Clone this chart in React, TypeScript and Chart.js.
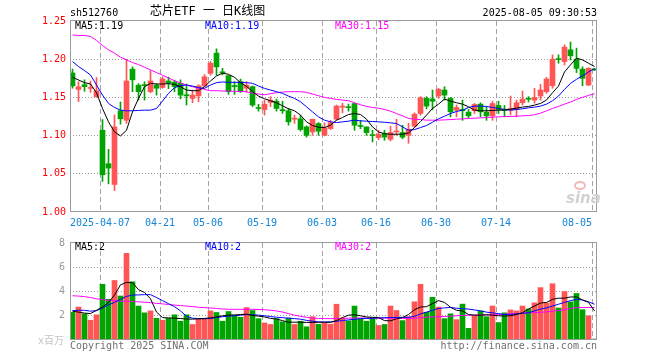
import React, { useEffect, useRef } from "react";
import { Chart, registerables } from "chart.js";

Chart.register(...registerables);

// ---------------- DATA ----------------
const DATES = [
  "03-28", "03-31", "04-01", "04-02", "04-03", "04-07", "04-08", "04-09", "04-10", "04-11",
  "04-14", "04-15", "04-16", "04-17", "04-18", "04-21", "04-22", "04-23", "04-24", "04-25",
  "04-28", "04-29", "04-30", "05-06", "05-07", "05-08", "05-09", "05-12", "05-13", "05-14",
  "05-15", "05-16", "05-19", "05-20", "05-21", "05-22", "05-23", "05-26", "05-27", "05-28",
  "05-29", "05-30", "06-03", "06-04", "06-05", "06-06", "06-09", "06-10", "06-11", "06-12",
  "06-13", "06-16", "06-17", "06-18", "06-19", "06-20", "06-23", "06-24", "06-25", "06-26",
  "06-27", "06-30", "07-01", "07-02", "07-03", "07-04", "07-07", "07-08", "07-09", "07-10",
  "07-11", "07-14", "07-15", "07-16", "07-17", "07-18", "07-21", "07-22", "07-23", "07-24",
  "07-25", "07-28", "07-29", "07-30", "07-31", "08-01", "08-04", "08-05",
];

const OPEN = [
  1.182, 1.1605, 1.1667, 1.1618, 1.151, 1.107, 1.0632, 1.036, 1.1325, 1.12,
  1.187, 1.166, 1.1665, 1.1575, 1.166, 1.163, 1.1715, 1.17, 1.1684, 1.1535,
  1.1487, 1.152, 1.165, 1.1816, 1.208, 1.1835, 1.1785, 1.1655, 1.1706, 1.162,
  1.164, 1.1365, 1.134, 1.1434, 1.145, 1.134, 1.1325, 1.1215, 1.122, 1.1114,
  1.1048, 1.1158, 1.1004, 1.1092, 1.1215, 1.1372, 1.1377, 1.142, 1.1125, 1.1114,
  1.1004, 1.0974, 1.1026, 1.0952, 1.1048, 1.104, 1.1004, 1.1123, 1.129, 1.1488,
  1.148, 1.1518, 1.1597, 1.1487, 1.1333, 1.1342, 1.1307, 1.1325, 1.1412, 1.1307,
  1.1258, 1.1395, 1.1342, 1.1333, 1.1342, 1.143, 1.148, 1.1465, 1.1518, 1.1575,
  1.1653, 1.2005, 1.197, 1.2123, 1.2, 1.187, 1.1662, 1.187,
];
const HIGH = [
  1.187, 1.1706, 1.173, 1.1715, 1.176, 1.121, 1.082, 1.127, 1.144, 1.2,
  1.19, 1.168, 1.1705, 1.185, 1.168, 1.177, 1.1765, 1.1725, 1.173, 1.1675,
  1.1597, 1.1667, 1.18, 1.197, 1.2136, 1.188, 1.1785, 1.1706, 1.174, 1.1706,
  1.165, 1.141, 1.1465, 1.151, 1.1478, 1.145, 1.1355, 1.1268, 1.1265, 1.1127,
  1.1215, 1.117, 1.117, 1.12, 1.14, 1.1425, 1.1413, 1.1425, 1.12, 1.1114,
  1.107, 1.107, 1.107, 1.1123, 1.1215, 1.1136, 1.116, 1.1298, 1.151, 1.151,
  1.1597, 1.162, 1.164, 1.15, 1.14, 1.1465, 1.1342, 1.142, 1.143, 1.1377,
  1.145, 1.145, 1.1395, 1.1518, 1.1465, 1.1583, 1.151, 1.162, 1.167, 1.1763,
  1.2057, 1.2057, 1.2189, 1.2224, 1.2145, 1.19, 1.189, 1.188,
];
const LOW = [
  1.162, 1.1443, 1.158, 1.1566, 1.15, 1.04, 1.0368, 1.028, 1.115, 1.116,
  1.1575, 1.1465, 1.1465, 1.156, 1.153, 1.162, 1.1615, 1.1575, 1.148, 1.14,
  1.143, 1.1443, 1.164, 1.179, 1.179, 1.1795, 1.154, 1.154, 1.1565, 1.1565,
  1.138, 1.132, 1.1268, 1.138, 1.132, 1.129, 1.1136, 1.116, 1.106, 1.098,
  1.1004, 1.1004, 1.0996, 1.108, 1.12, 1.1298, 1.132, 1.107, 1.109, 1.1004,
  1.0917, 1.0947, 1.0939, 1.093, 1.1004, 1.096, 1.09, 1.111, 1.1268, 1.135,
  1.1338, 1.1487, 1.1465, 1.1245, 1.1245, 1.12, 1.1232, 1.129, 1.1245, 1.12,
  1.12, 1.129, 1.1245, 1.127, 1.1245, 1.14, 1.144, 1.1425, 1.1465, 1.1553,
  1.162, 1.1947, 1.1925, 1.199, 1.1825, 1.1653, 1.1653, 1.185,
];
const CLOSE = [
  1.165, 1.164, 1.164, 1.163, 1.1588, 1.0487, 1.0575, 1.1114, 1.122, 1.1715,
  1.173, 1.1575, 1.1655, 1.1715, 1.162, 1.174, 1.169, 1.164, 1.153, 1.152,
  1.153, 1.165, 1.177, 1.1947, 1.19, 1.182, 1.1575, 1.164, 1.1575, 1.166,
  1.14, 1.1355, 1.141, 1.1465, 1.1355, 1.1325, 1.118, 1.1225, 1.108, 1.1004,
  1.1215, 1.1057, 1.11, 1.117, 1.1386, 1.1386, 1.1365, 1.1136, 1.112, 1.104,
  1.1, 1.1018, 1.098, 1.104, 1.1061, 1.098, 1.1083, 1.128, 1.1496, 1.1386,
  1.145, 1.1605, 1.153, 1.1311, 1.1368, 1.1325, 1.1258, 1.1408, 1.1311, 1.1258,
  1.142, 1.1342, 1.1333, 1.1355, 1.143, 1.1478, 1.1475, 1.15, 1.1597, 1.1741,
  1.2, 1.1995, 1.2158, 1.2044, 1.188, 1.175, 1.188, 1.186,
];

const PRICE_MA5 = [
  1.1763, 1.1728, 1.1693, 1.1675, 1.1561, 1.1355, 1.118, 1.1048, 1.0996, 1.107,
  1.1311, 1.1487, 1.164, 1.1684, 1.1675, 1.1675, 1.168, 1.1671, 1.164, 1.1596,
  1.1588, 1.1588, 1.164, 1.1715, 1.1781, 1.1816, 1.1803, 1.1763, 1.1693, 1.1645,
  1.1575, 1.1517, 1.1482, 1.1456, 1.143, 1.139, 1.1351, 1.1325, 1.1268, 1.118,
  1.1132, 1.111, 1.1105, 1.1136, 1.1202, 1.1237, 1.1276, 1.1289, 1.1276, 1.1215,
  1.1114, 1.1048, 1.1026, 1.1018, 1.1018, 1.1018, 1.1035, 1.1105, 1.1184, 1.1268,
  1.1355, 1.1412, 1.1478, 1.1452, 1.143, 1.1412, 1.1377, 1.1333, 1.1325, 1.1325,
  1.1329, 1.1333, 1.1333, 1.1346, 1.136, 1.1373, 1.1382, 1.1399, 1.1421, 1.1465,
  1.1561, 1.1649, 1.1833, 1.1925, 1.2013, 1.1991, 1.1947, 1.1904,
];
const PRICE_MA10 = [
  1.1969, 1.1904, 1.1851, 1.1794, 1.1662, 1.1531, 1.1421, 1.1368, 1.1333, 1.1325,
  1.1325, 1.1329, 1.1333, 1.1333, 1.1355, 1.1452, 1.1553, 1.1627, 1.1654, 1.1662,
  1.1649, 1.1627, 1.1618, 1.1662, 1.1693, 1.1702, 1.1697, 1.1697, 1.1697, 1.1693,
  1.1684, 1.1649, 1.1618, 1.1596, 1.1575, 1.1553, 1.1517, 1.1487, 1.1443, 1.1377,
  1.1311, 1.1245, 1.1202, 1.118, 1.1171, 1.118, 1.1189, 1.1202, 1.1193, 1.1189,
  1.1184, 1.118, 1.1175, 1.1167, 1.1158, 1.1114, 1.107, 1.1079, 1.1105, 1.1132,
  1.1175, 1.1219, 1.1254, 1.1289, 1.1316, 1.1333, 1.1368, 1.1386, 1.1386, 1.1382,
  1.1368, 1.1355, 1.1342, 1.1333, 1.1342, 1.1351, 1.1364, 1.1373, 1.1386, 1.1412,
  1.1456, 1.1518, 1.1605, 1.1684, 1.1737, 1.1781, 1.1833, 1.1877,
];
const PRICE_MA30 = [
  1.2316, 1.2311, 1.2311, 1.2298, 1.2246, 1.218, 1.2123, 1.2079, 1.2026, 1.1991,
  1.1956, 1.193, 1.1895, 1.186, 1.1825, 1.179, 1.1754, 1.1719, 1.1688, 1.1662,
  1.164, 1.1623, 1.1605, 1.1588, 1.1588, 1.1583, 1.1583, 1.1579, 1.1579, 1.1575,
  1.1553, 1.1544, 1.1535, 1.1548, 1.1561, 1.157, 1.1575, 1.1575, 1.1575, 1.1566,
  1.1544, 1.1522, 1.15, 1.1487, 1.1474, 1.1465, 1.1456, 1.143, 1.1404, 1.1382,
  1.1368, 1.136, 1.1342, 1.132, 1.1289, 1.1259, 1.1224, 1.1215, 1.121, 1.1202,
  1.1202, 1.1202, 1.1206, 1.121, 1.1215, 1.1219, 1.1224, 1.1228, 1.1232, 1.1237,
  1.1241, 1.1245, 1.125, 1.125, 1.1254, 1.1259, 1.1263, 1.1272, 1.1294, 1.1324,
  1.1355, 1.1382, 1.1412, 1.1439, 1.1474, 1.15, 1.1526, 1.1548,
];

// volume in millions (x百万)
const VOLUME = [
  2.29, 2.72, 2.16, 1.63, 2.08, 4.59, 3.36, 4.91, 3.63, 7.15,
  4.8, 2.8, 2.24, 2.4, 1.79, 1.63, 1.79, 2.08, 1.55, 2.08,
  1.28, 1.76, 1.76, 2.4, 2.27, 1.55, 2.35, 2.03, 1.87, 2.67,
  2.43, 1.76, 1.41, 1.28, 1.76, 1.5, 1.81, 1.28, 1.55, 1.09,
  1.92, 1.3, 1.4, 1.3, 2.95, 1.81, 1.57, 2.8, 1.76, 1.55,
  1.81, 1.2, 1.28, 2.8, 2.43, 1.6, 1.92, 3.15, 4.59, 2.29,
  3.52, 2.72, 1.76, 2.16, 1.68, 2.96, 0.96, 2.03, 2.4, 1.92,
  2.8, 1.44, 2.24, 2.48, 2.4, 2.8, 2.56, 3.07, 4.32, 3.05,
  4.64, 2.64, 4.0, 3.15, 3.84, 2.5, 2.0, 0.08,
];
const VOL_MA5 = [
  2.38, 2.3, 2.22, 2.18, 2.45, 2.72, 3.1, 3.7, 4.55, 4.75,
  4.72, 4.15, 3.92, 3.4, 2.3, 1.85, 1.82, 1.8, 1.77, 1.73,
  1.72, 1.75, 1.78, 1.82, 1.9, 2.0, 2.05, 2.07, 2.1, 2.13,
  2.02, 1.97, 1.9, 1.78, 1.73, 1.6, 1.47, 1.47, 1.47, 1.45,
  1.45, 1.46, 1.47, 1.45, 1.6, 1.85, 2.05, 2.08, 2.0, 1.9,
  1.87, 1.85, 1.6, 1.58, 1.75, 1.85, 2.1, 2.5, 2.72, 2.75,
  3.0, 3.25, 3.1, 2.7, 2.45, 2.4, 2.1, 2.05, 2.05, 2.08,
  2.05, 2.0, 1.98, 2.0, 2.1, 2.25, 2.55, 2.8, 3.05, 3.1,
  3.35, 3.45, 3.45, 3.55, 3.55, 3.3, 3.1, 2.4,
];
const VOL_MA10 = [
  2.42, 2.45, 2.45, 2.38, 2.42, 2.65, 2.9, 3.1, 3.35, 3.6,
  3.7, 3.72, 3.74, 3.74, 3.5, 3.25, 3.0, 2.75, 2.4, 1.95,
  1.8, 1.76, 1.75, 1.78, 1.85, 1.92, 1.97, 2.0, 2.05, 2.1,
  2.08, 2.05, 2.0, 1.93, 1.88, 1.84, 1.8, 1.76, 1.72, 1.62,
  1.55, 1.5, 1.48, 1.5, 1.55, 1.6, 1.66, 1.7, 1.76, 1.78,
  1.8, 1.82, 1.84, 1.85, 1.86, 1.87, 1.87, 1.95, 2.15, 2.3,
  2.45, 2.6, 2.65, 2.68, 2.62, 2.58, 2.55, 2.48, 2.4, 2.3,
  2.24, 2.18, 2.1, 2.12, 2.15, 2.2, 2.25, 2.4, 2.55, 2.65,
  2.8, 2.95, 3.1, 3.25, 3.35, 3.3, 3.15, 2.95,
];
const VOL_MA30 = [
  3.65, 3.62, 3.58, 3.5, 3.4, 3.32, 3.28, 3.24, 3.2, 3.2,
  3.18, 3.15, 3.12, 3.08, 3.02, 2.98, 2.93, 2.88, 2.84, 2.8,
  2.76, 2.7, 2.67, 2.64, 2.6, 2.56, 2.53, 2.53, 2.53, 2.53,
  2.53, 2.52, 2.5, 2.45, 2.4, 2.3, 2.18, 2.05, 1.95, 1.87,
  1.81, 1.78, 1.77, 1.76, 1.77, 1.78, 1.8, 1.81, 1.81, 1.81,
  1.81, 1.8, 1.8, 1.8, 1.79, 1.78, 1.78, 1.8, 1.84, 1.88,
  1.9, 1.92, 1.94, 1.96, 2.0, 2.03, 2.04, 2.05, 2.06, 2.07,
  2.08, 2.1, 2.12, 2.15, 2.18, 2.22, 2.24, 2.26, 2.28, 2.32,
  2.38, 2.43, 2.5, 2.6, 2.67, 2.68, 2.68, 2.68,
];

const TICK_DATES = ["04-07", "04-21", "05-06", "05-19", "06-03", "06-16", "06-30", "07-14", "08-05"];
const TICK_LABELS = ["2025-04-07", "04-21", "05-06", "05-19", "06-03", "06-16", "06-30", "07-14", "08-05     "];
const PRICE_TICKS = [1.0, 1.05, 1.1, 1.15, 1.2, 1.25];
const VOLUME_TICKS = [0, 2, 4, 6, 8];
const VOLUME_TICK_LABELS = ["", "2", "4", "6", "8"];

// ---------------- STYLE ----------------
const UP = "#ff5555";
const DOWN = "#00a400";
const MA5_C = "#000000";
const MA10_C = "#0000ff";
const MA30_C = "#ff00ff";
const GRID_V = "#a4a4a4";
const GRID_H = "#9c9c9c";
const FRAME = "#9a9a9a";
const MONO = '"DejaVu Sans Mono", "Noto Sans CJK SC", monospace';
const BAND = 6; // px per trading day
const PLOT_LEFT = 70;
const PLOT_RIGHT = 597;
const X_MIN = -2.5 / BAND;
const X_MAX = X_MIN + (PLOT_RIGHT - PLOT_LEFT) / BAND;

const candleColor = (i: number) => (CLOSE[i] >= OPEN[i] ? UP : DOWN);

function drawGrid(chart: any) {
  const ctx: CanvasRenderingContext2D = chart.ctx;
  const area = chart.chartArea;
  const xs = chart.scales["x"];
  const ys = chart.scales["y"];
  if (!area || !xs || !ys) return;
  ctx.save();
  ctx.lineWidth = 1;
  ctx.strokeStyle = GRID_V;
  ctx.setLineDash([5, 3]);
  const xt = TICK_DATES.map((d) => DATES.indexOf(d) + X_MIN);
  for (const v of xt) {
    const px = Math.round(xs.getPixelForValue(v) - 0.5) + 0.5;
    ctx.beginPath();
    ctx.moveTo(px, area.top);
    ctx.lineTo(px, area.bottom);
    ctx.stroke();
  }
  ctx.strokeStyle = GRID_H;
  ctx.setLineDash([1, 2]);
  const yt: number[] = ys.ticks.map((t: any) => t.value);
  for (let i = 1; i < yt.length - 1; i++) {
    const py = Math.round(ys.getPixelForValue(yt[i]) - 0.5) + 0.5;
    ctx.beginPath();
    ctx.moveTo(area.left, py);
    ctx.lineTo(area.right, py);
    ctx.stroke();
  }
  ctx.restore();
}

function drawFrame(chart: any) {
  const ctx: CanvasRenderingContext2D = chart.ctx;
  const { left, top, right, bottom } = chart.chartArea;
  ctx.save();
  ctx.strokeStyle = FRAME;
  ctx.lineWidth = 1;
  ctx.setLineDash([]);
  ctx.strokeRect(left + 0.5, top - 0.5, right - left - 1, bottom - top);
  ctx.restore();
}

const gridPlugin = {
  id: "sinaGrid",
  beforeDraw(chart: any) {
    drawGrid(chart);
  },
  afterDraw(chart: any) {
    drawFrame(chart);
  },
};

function xScale(showLabels: boolean) {
  return {
    type: "linear",
    min: X_MIN,
    max: X_MAX,
    offset: false,
    afterBuildTicks: (s: any) => {
      s.ticks = TICK_DATES.map((d) => ({ value: DATES.indexOf(d) + X_MIN }));
    },
    afterFit: (s: any) => {
      s.height = showLabels ? 20 : 0;
    },
    ticks: {
      display: showLabels,
      autoSkip: false,
      maxRotation: 0,
      minRotation: 0,
      padding: 5,
      color: "#1585d5",
      font: { family: MONO, size: 10 },
      callback: (_v: any, i: number) => TICK_LABELS[i],
    },
    grid: { display: false, offset: false, drawTicks: false },
    border: { display: false },
  };
}

function lineDs(data: number[], color: string) {
  return {
    type: "line",
    data: data.map((v, i) => ({ x: i, y: v })),
    borderColor: color,
    borderWidth: 1,
    pointRadius: 0,
    tension: 0,
    fill: false,
    order: 0,
  };
}

export default function App() {
  const priceRef = useRef<HTMLCanvasElement>(null);
  const volRef = useRef<HTMLCanvasElement>(null);

  useEffect(() => {
    document.body.style.margin = "0";
    const colors = DATES.map((_, i) => candleColor(i));

    const price = new Chart(priceRef.current as HTMLCanvasElement, {
      type: "bar",
      data: {
        datasets: [
          lineDs(PRICE_MA5, MA5_C),
          lineDs(PRICE_MA10, MA10_C),
          lineDs(PRICE_MA30, MA30_C),
          {
            type: "bar",
            data: DATES.map((_, i) => ({ x: i, y: [OPEN[i], CLOSE[i]] })),
            backgroundColor: colors,
            borderWidth: 0,
            barThickness: 5,
            minBarLength: 1,
            grouped: false,
            order: 1,
          },
          {
            type: "bar",
            data: DATES.map((_, i) => ({ x: i, y: [LOW[i], HIGH[i]] })),
            backgroundColor: colors,
            borderWidth: 0,
            barThickness: 1,
            minBarLength: 1,
            grouped: false,
            order: 2,
          },
        ] as any,
      },
      options: {
        responsive: false,
        animation: false,
        devicePixelRatio: 1,
        layout: { padding: { left: 0, right: 660 - PLOT_RIGHT, top: 21, bottom: 0 } },
        plugins: { legend: { display: false }, tooltip: { enabled: false } },
        scales: {
          x: xScale(true) as any,
          y: {
            type: "linear",
            min: 1.0,
            max: 1.25,
            afterBuildTicks: (s: any) => {
              s.ticks = PRICE_TICKS.map((v) => ({ value: v }));
            },
            afterFit: (s: any) => {
              s.width = PLOT_LEFT;
            },
            ticks: {
              color: "#ff0000",
              padding: 4,
              font: { family: MONO, size: 10 },
              callback: (v: any) => Number(v).toFixed(2),
            },
            grid: { display: false, drawTicks: false },
            border: { display: false },
          } as any,
        },
      },
      plugins: [gridPlugin],
    });

    const vol = new Chart(volRef.current as HTMLCanvasElement, {
      type: "bar",
      data: {
        datasets: [
          lineDs(VOL_MA5, MA5_C),
          lineDs(VOL_MA10, MA10_C),
          lineDs(VOL_MA30, MA30_C),
          {
            type: "bar",
            data: DATES.map((_, i) => ({ x: i, y: VOLUME[i] })),
            backgroundColor: colors,
            borderWidth: 0,
            barThickness: 5,
            grouped: false,
            order: 1,
          },
        ] as any,
      },
      options: {
        responsive: false,
        animation: false,
        devicePixelRatio: 1,
        layout: { padding: { left: 0, right: 660 - PLOT_RIGHT, top: 8, bottom: 20 } },
        plugins: { legend: { display: false }, tooltip: { enabled: false } },
        scales: {
          x: xScale(false) as any,
          y: {
            type: "linear",
            min: 0,
            max: 8,
            afterBuildTicks: (s: any) => {
              s.ticks = VOLUME_TICKS.map((v) => ({ value: v }));
            },
            afterFit: (s: any) => {
              s.width = PLOT_LEFT;
            },
            ticks: {
              color: "#999999",
              padding: 5,
              font: { family: MONO, size: 10 },
              callback: (_v: any, i: number) => VOLUME_TICK_LABELS[i],
            },
            grid: { display: false, drawTicks: false },
            border: { display: false },
          } as any,
        },
      },
      plugins: [gridPlugin],
    });

    return () => {
      price.destroy();
      vol.destroy();
    };
  }, []);

  const t = (extra: React.CSSProperties): React.CSSProperties => ({
    position: "absolute",
    fontFamily: MONO,
    fontSize: 10,
    lineHeight: "10px",
    whiteSpace: "pre",
    ...extra,
  });

  return (
    <div style={{ position: "fixed", left: 0, top: 0, width: 660, height: 360, background: "#fff", overflow: "hidden" }}>
      <canvas ref={priceRef} width={660} height={232} style={{ position: "absolute", left: 0, top: 0 }} />
      <canvas ref={volRef} width={660} height={128} style={{ position: "absolute", left: 0, top: 232 }} />

      <div style={t({ left: 70, top: 8, color: "#000" })}>sh512760</div>
      <div style={t({ left: 150, top: 5, fontSize: 12, lineHeight: "13px", color: "#000" })}>芯片ETF 一 日K线图</div>
      <div style={t({ right: 63, top: 8, color: "#000" })}>2025-08-05 09:30:53</div>

      <div style={t({ left: 75, top: 21, color: MA5_C })}>MA5:1.19</div>
      <div style={t({ left: 205, top: 21, color: MA10_C })}>MA10:1.19</div>
      <div style={t({ left: 335, top: 21, color: MA30_C })}>MA30:1.15</div>

      <div style={t({ left: 75, top: 242, color: MA5_C })}>MA5:2</div>
      <div style={t({ left: 205, top: 242, color: MA10_C })}>MA10:2</div>
      <div style={t({ left: 335, top: 242, color: MA30_C })}>MA30:2</div>

      <div style={t({ left: 38, top: 336, color: "#c4c4c4" })}>x百万</div>
      <div style={t({ left: 70, top: 341, color: "#707070" })}>Copyright 2025 SINA.COM</div>
      <div style={t({ right: 63, top: 341, color: "#707070" })}>http://finance.sina.com.cn</div>

      <div
        style={{
          position: "absolute",
          left: 574,
          top: 181,
          width: 12,
          height: 9,
          borderRadius: "50%",
          border: "2px solid #f6b8b8",
          boxSizing: "border-box",
        }}
      />
      <div
        style={t({
          left: 566,
          top: 191,
          fontFamily: '"DejaVu Sans", sans-serif',
          fontSize: 15,
          lineHeight: "15px",
          fontStyle: "italic",
          fontWeight: "bold",
          color: "#d2d2d2",
        })}
      >
        sina
      </div>
    </div>
  );
}
